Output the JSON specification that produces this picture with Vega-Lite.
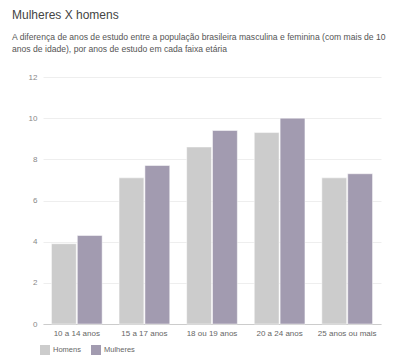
{
  "$schema": "https://vega.github.io/schema/vega-lite/v6.json",
  "width": 338,
  "height": 247,
  "autosize": "none",
  "padding": {"left": 43, "top": 77, "right": 19, "bottom": 39},
  "background": "white",
  "config": {
    "font": "Liberation Sans",
    "view": {"stroke": null}
  },
  "title": {
    "text": "Mulheres X homens",
    "subtitle": ["A diferença de anos de estudo entre a população brasileira masculina e feminina (com mais de 10", "anos de idade), por anos de estudo em cada faixa etária"],
    "anchor": "start",
    "frame": "group",
    "dx": -31,
    "offset": 18,
    "fontSize": 12,
    "fontWeight": "normal",
    "color": "#444444",
    "subtitleFontSize": 8.6,
    "subtitleColor": "#555555",
    "subtitlePadding": 11,
    "subtitleLineHeight": 12.5
  },
  "data": {
    "values": [
      {"faixa": "10 a 14 anos", "sexo": "Homens", "anos": 3.9},
      {"faixa": "10 a 14 anos", "sexo": "Mulheres", "anos": 4.3},
      {"faixa": "15 a 17 anos", "sexo": "Homens", "anos": 7.1},
      {"faixa": "15 a 17 anos", "sexo": "Mulheres", "anos": 7.7},
      {"faixa": "18 ou 19 anos", "sexo": "Homens", "anos": 8.6},
      {"faixa": "18 ou 19 anos", "sexo": "Mulheres", "anos": 9.4},
      {"faixa": "20 a 24 anos", "sexo": "Homens", "anos": 9.3},
      {"faixa": "20 a 24 anos", "sexo": "Mulheres", "anos": 10.0},
      {"faixa": "25 anos ou mais", "sexo": "Homens", "anos": 7.1},
      {"faixa": "25 anos ou mais", "sexo": "Mulheres", "anos": 7.3}
    ]
  },
  "mark": {"type": "bar", "stroke": "white", "strokeWidth": 0.5},
  "encoding": {
    "x": {
      "field": "faixa",
      "type": "nominal",
      "sort": null,
      "scale": {"paddingInner": 0.25, "paddingOuter": 0.125},
      "axis": {
        "title": null,
        "labelAngle": 0,
        "labelFontSize": 8,
        "labelColor": "#666666",
        "ticks": false,
        "domainColor": "#cccccc",
        "labelPadding": 5
      }
    },
    "xOffset": {"field": "sexo", "type": "nominal", "scale": {"paddingInner": 0.04}},
    "y": {
      "field": "anos",
      "type": "quantitative",
      "scale": {"domain": [0, 12]},
      "axis": {
        "title": null,
        "values": [0, 2, 4, 6, 8, 10, 12],
        "labelFontSize": 8,
        "labelColor": "#888888",
        "ticks": false,
        "domain": false,
        "gridColor": "#eeeeee",
        "labelPadding": 6
      }
    },
    "color": {
      "field": "sexo",
      "type": "nominal",
      "scale": {"domain": ["Homens", "Mulheres"], "range": ["#cccccc", "#a29bb0"]},
      "legend": {
        "title": null,
        "orient": "none",
        "direction": "horizontal",
        "legendX": -3,
        "legendY": 268,
        "symbolType": "square",
        "symbolSize": 100,
        "symbolStrokeWidth": 0,
        "labelFontSize": 7.5,
        "labelColor": "#666666",
        "columnPadding": 10,
        "labelOffset": 3
      }
    }
  }
}
